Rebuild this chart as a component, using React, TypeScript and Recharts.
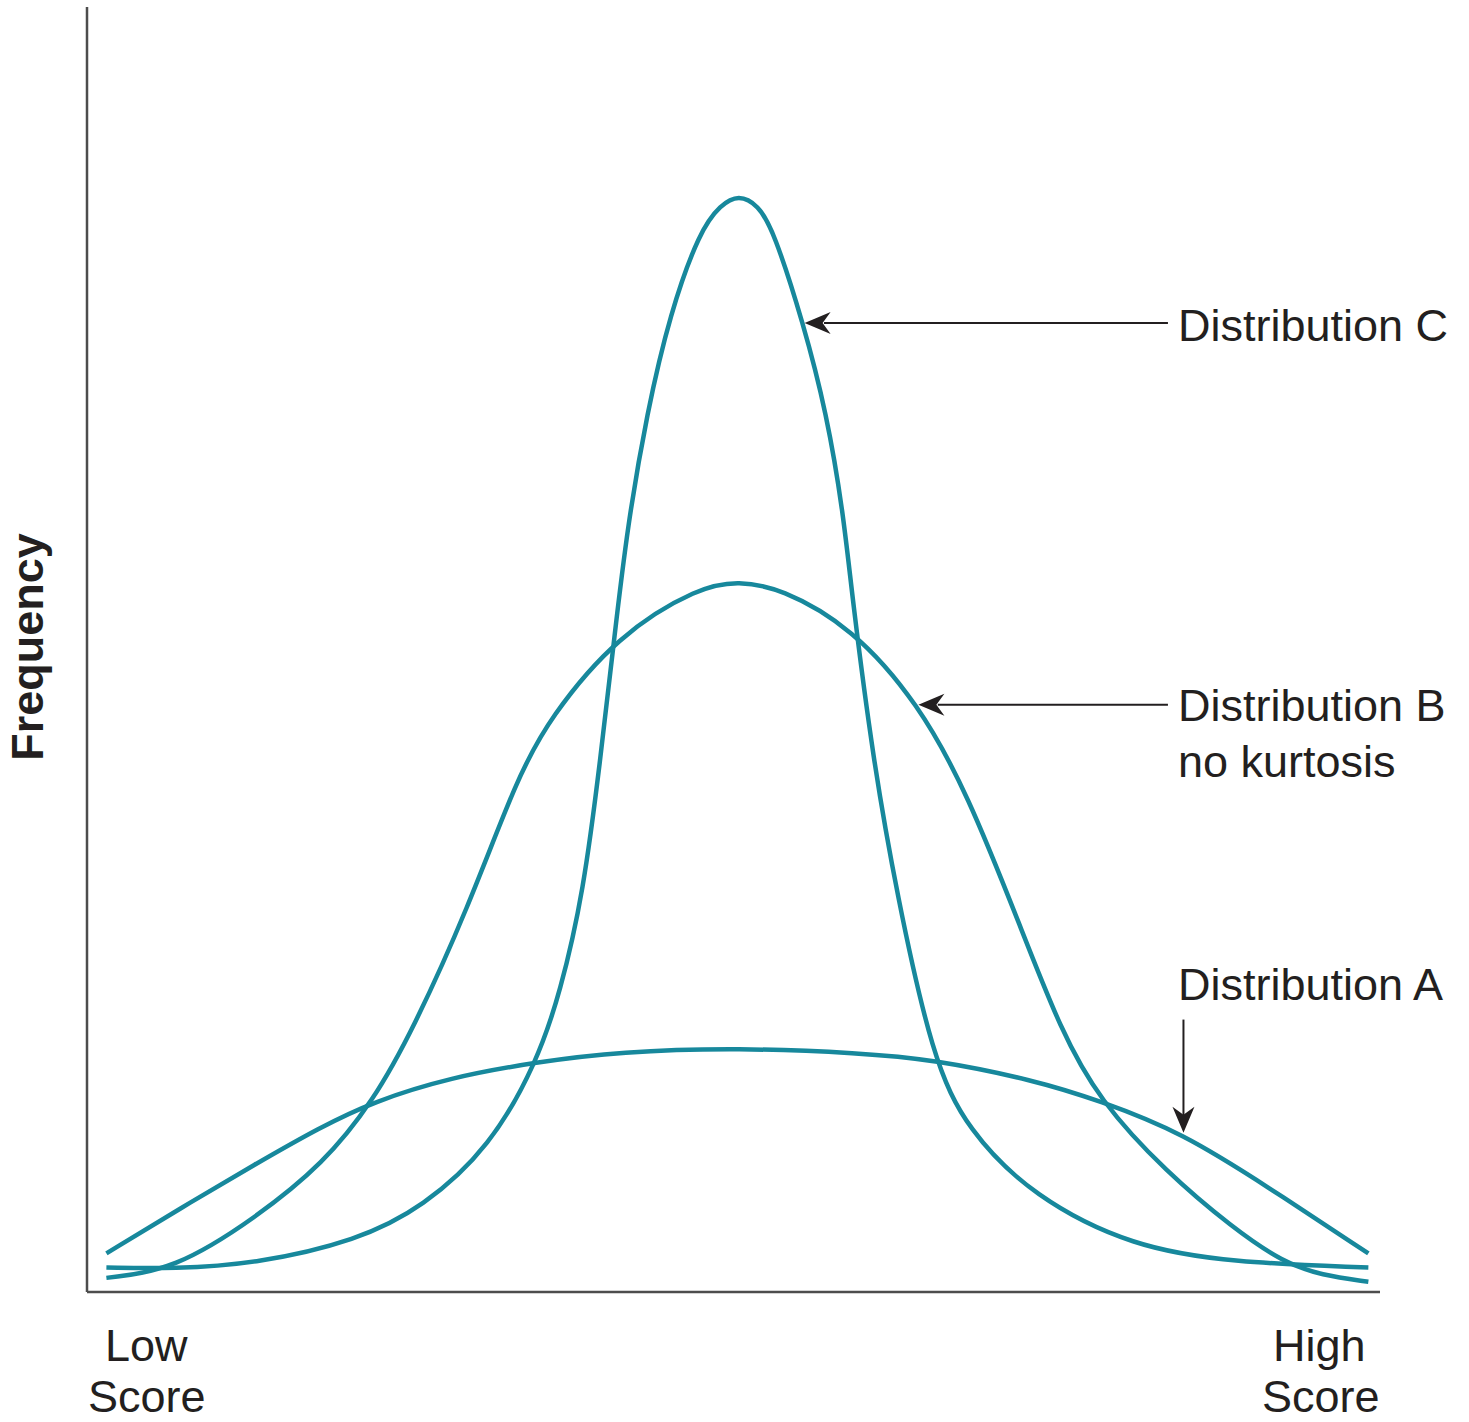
import { LineChart, Line, XAxis, YAxis, ReferenceLine, ReferenceDot } from "recharts"

// score (0-100 across the x axis) and frequency (0-100 up the y axis)
const scoreA = [1.5, 7.2, 13.1, 18.0, 22.1, 28.1, 34.8, 41.2, 50.4, 59.8, 65.4, 73.2, 78.3, 84.7, 91.3, 99.1]
const freqA = [3.0, 6.5, 10.0, 12.8, 14.8, 16.7, 17.9, 18.7, 19.0, 18.6, 18.1, 16.5, 14.9, 12.4, 8.2, 3.0]

const scoreB = [1.5, 6.7, 13.1, 18.3, 22.1, 25.2, 29.4, 33.3, 35.8, 41.0, 47.4, 50.4, 53.6, 59.2, 64.3, 68.1, 72.2, 75.3, 78.3, 83.5, 88.6, 92.5, 95.5, 99.1]
const freqB = [1.1, 1.7, 5.8, 10.0, 14.8, 20.4, 29.7, 40.1, 44.7, 51.1, 54.9, 55.3, 54.8, 51.7, 45.8, 38.8, 28.4, 20.4, 14.9, 9.3, 5.0, 2.3, 1.3, 0.8]

const scoreC = [1.5, 6.7, 13.1, 20.9, 26.0, 31.2, 34.8, 36.6, 38.4, 39.7, 40.8, 41.8, 43.3, 45.1, 47.4, 49.0, 50.4, 51.9, 53.1, 55.4, 57.2, 58.5, 59.2, 60.8, 62.6, 65.4, 68.1, 73.2, 80.9, 88.6, 99.1]
const freqC = [1.9, 1.8, 2.2, 4.0, 6.6, 11.3, 17.9, 23.3, 31.1, 41.4, 51.1, 59.6, 68.4, 76.2, 82.6, 84.6, 85.4, 84.6, 82.6, 75.4, 68.4, 60.6, 53.9, 41.4, 31.1, 18.1, 12.6, 7.4, 3.5, 2.3, 1.9]

const toPoints = (xs: number[], ys: number[]) => xs.map((x, i) => ({ x, y: ys[i] }))

const seriesA = toPoints(scoreA, freqA)
const seriesB = toPoints(scoreB, freqB)
const seriesC = toPoints(scoreC, freqC)

const CURVE = "#17889c"
const AXIS = "#4d4d4d"
const INK = "#231f20"

// arrowhead drawn at the tip, pointing left or down
function Arrowhead({ cx, cy, dir }: { cx?: number; cy?: number; dir: "left" | "down" }) {
  if (cx == null || cy == null) return null
  const d =
    dir === "left"
      ? `M${cx},${cy} L${cx + 26},${cy - 11} L${cx + 18},${cy} L${cx + 26},${cy + 11} Z`
      : `M${cx},${cy} L${cx - 11},${cy - 26} L${cx},${cy - 18} L${cx + 11},${cy - 26} Z`
  return <path d={d} fill={INK} />
}

const labelStyle: React.CSSProperties = {
  position: "absolute",
  fontFamily: "'Liberation Sans', Arial, sans-serif",
  fontSize: 45,
  lineHeight: 1,
  color: INK,
  whiteSpace: "nowrap",
}

export default function App() {
  return (
    <div style={{ position: "absolute", left: 0, top: 0, width: 1469, height: 1422, background: "#fff", overflow: "hidden" }}>
      <LineChart width={1469} height={1422} margin={{ top: 7, right: 89, bottom: 130, left: 87 }}>
        <XAxis dataKey="x" type="number" domain={[0, 100]} hide allowDataOverflow />
        <YAxis type="number" domain={[0, 100]} hide allowDataOverflow />
        <ReferenceLine x={0} stroke={AXIS} strokeWidth={2.5} />
        <ReferenceLine y={0} stroke={AXIS} strokeWidth={2.5} />

        <Line data={seriesA} dataKey="y" type="basis" stroke={CURVE} strokeWidth={4.5} dot={false} activeDot={false} isAnimationActive={false} />
        <Line data={seriesB} dataKey="y" type="basis" stroke={CURVE} strokeWidth={4.5} dot={false} activeDot={false} isAnimationActive={false} />
        <Line data={seriesC} dataKey="y" type="basis" stroke={CURVE} strokeWidth={4.5} dot={false} activeDot={false} isAnimationActive={false} />

        {/* callout arrows */}
        <ReferenceLine segment={[{ x: 83.6, y: 75.4 }, { x: 57.0, y: 75.4 }]} stroke={INK} strokeWidth={2} />
        <ReferenceDot x={55.5} y={75.4} r={0} shape={(p: any) => <Arrowhead cx={p.cx} cy={p.cy} dir="left" />} />
        <ReferenceLine segment={[{ x: 83.6, y: 45.7 }, { x: 65.8, y: 45.7 }]} stroke={INK} strokeWidth={2} />
        <ReferenceDot x={64.3} y={45.7} r={0} shape={(p: any) => <Arrowhead cx={p.cx} cy={p.cy} dir="left" />} />
        <ReferenceLine segment={[{ x: 84.8, y: 21.2 }, { x: 84.8, y: 13.5 }]} stroke={INK} strokeWidth={2} />
        <ReferenceDot x={84.8} y={12.4} r={0} shape={(p: any) => <Arrowhead cx={p.cx} cy={p.cy} dir="down" />} />
      </LineChart>

      <div style={{ ...labelStyle, left: 1178, top: 303 }}>Distribution C</div>
      <div style={{ ...labelStyle, left: 1178, top: 683 }}>Distribution B</div>
      <div style={{ ...labelStyle, left: 1178, top: 739 }}>no kurtosis</div>
      <div style={{ ...labelStyle, left: 1178, top: 962 }}>Distribution A</div>

      <div style={{ ...labelStyle, left: 105, top: 1323 }}>Low</div>
      <div style={{ ...labelStyle, left: 88, top: 1374 }}>Score</div>
      <div style={{ ...labelStyle, left: 1273, top: 1323 }}>High</div>
      <div style={{ ...labelStyle, left: 1262, top: 1374 }}>Score</div>

      <div
        style={{
          ...labelStyle,
          fontSize: 45,
          fontWeight: "bold",
          left: 27,
          top: 647,
          transform: "translate(-50%, -50%) rotate(-90deg)",
        }}
      >
        Frequency
      </div>
    </div>
  )
}
